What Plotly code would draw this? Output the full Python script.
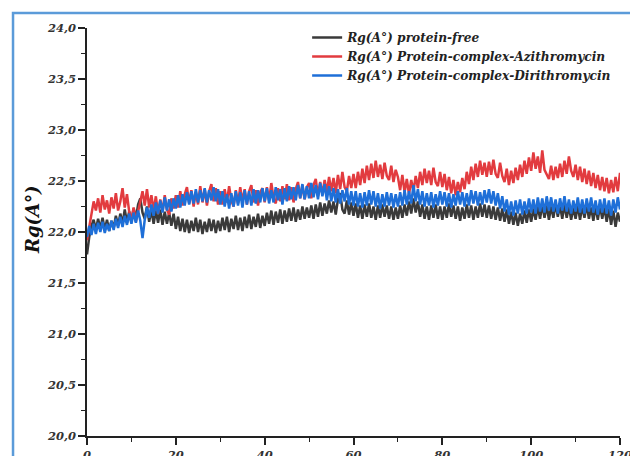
import plotly.graph_objects as go

# ---------------- data (0.5 ns sampling) ----------------
time_step = 0.5
rg_free = [
    21.78, 21.95, 22.06, 22.12, 22.02, 22.13, 22.03, 22.14, 22.02, 22.12, 22.01, 22.11, 22.04, 22.16, 22.06, 22.18, 22.08, 22.22, 22.09, 22.20,
    22.10, 22.23, 22.13, 22.27, 22.33, 22.19, 22.13, 22.25, 22.10, 22.22, 22.08, 22.21, 22.09, 22.22, 22.07, 22.20, 22.08, 22.19, 22.06, 22.18,
    22.03, 22.15, 22.01, 22.13, 22.00, 22.12, 21.99, 22.11, 22.01, 22.14, 22.00, 22.12, 21.98, 22.10, 22.00, 22.13, 22.01, 22.12, 21.99, 22.11,
    22.01, 22.14, 22.02, 22.15, 22.00, 22.13, 22.03, 22.16, 22.02, 22.14, 22.01, 22.15, 22.04, 22.17, 22.03, 22.15, 22.05, 22.18, 22.04, 22.16,
    22.06, 22.19, 22.08, 22.21, 22.07, 22.20, 22.09, 22.22, 22.08, 22.21, 22.10, 22.23, 22.11, 22.24, 22.10, 22.22, 22.12, 22.25, 22.13, 22.24,
    22.14, 22.26, 22.13, 22.27, 22.15, 22.29, 22.16, 22.28, 22.18, 22.31, 22.19, 22.30, 22.17, 22.32, 22.38, 22.22, 22.18, 22.31, 22.17, 22.29,
    22.16, 22.28, 22.14, 22.26, 22.13, 22.27, 22.15, 22.28, 22.14, 22.25, 22.12, 22.26, 22.14, 22.27, 22.15, 22.26, 22.13, 22.25, 22.12, 22.24,
    22.13, 22.26, 22.14, 22.27, 22.16, 22.30, 22.18, 22.33, 22.19, 22.30, 22.15, 22.27, 22.13, 22.25, 22.12, 22.26, 22.14, 22.27, 22.13, 22.25,
    22.12, 22.25, 22.14, 22.28, 22.15, 22.26, 22.13, 22.25, 22.11, 22.24, 22.13, 22.27, 22.14, 22.26, 22.12, 22.25, 22.14, 22.28, 22.15, 22.27,
    22.14, 22.26, 22.13, 22.25, 22.12, 22.24, 22.11, 22.23, 22.10, 22.22, 22.08, 22.20, 22.07, 22.19, 22.06, 22.18, 22.08, 22.21, 22.09, 22.22,
    22.10, 22.23, 22.12, 22.25, 22.13, 22.27, 22.14, 22.26, 22.12, 22.25, 22.14, 22.28, 22.15, 22.26, 22.13, 22.27, 22.14, 22.25, 22.12, 22.24,
    22.13, 22.26, 22.12, 22.25, 22.14, 22.27, 22.13, 22.24, 22.11, 22.25, 22.12, 22.26, 22.13, 22.24, 22.10, 22.23, 22.07, 22.21, 22.05, 22.19,
    22.10,
]
rg_azithro = [
    21.92, 22.06, 22.20, 22.30, 22.21, 22.33, 22.19, 22.36, 22.22, 22.31, 22.18, 22.34, 22.23, 22.38, 22.21, 22.30, 22.43, 22.24, 22.37, 22.20,
    22.12, 22.24, 22.10, 22.21, 22.30, 22.40, 22.26, 22.42, 22.24, 22.36, 22.21, 22.35, 22.18, 22.32, 22.20, 22.36, 22.22, 22.17, 22.33, 22.23,
    22.36, 22.24, 22.40, 22.26, 22.37, 22.44, 22.28, 22.41, 22.25, 22.39, 22.27, 22.45, 22.29, 22.42, 22.26, 22.40, 22.47, 22.30, 22.43, 22.27,
    22.40, 22.27, 22.42, 22.29, 22.45, 22.31, 22.25, 22.41, 22.28, 22.44, 22.30, 22.42, 22.27, 22.40, 22.46, 22.29, 22.41, 22.26, 22.39, 22.43,
    22.29, 22.44, 22.31, 22.48, 22.33, 22.28, 22.43, 22.30, 22.45, 22.32, 22.47, 22.31, 22.44, 22.29, 22.42, 22.49, 22.33, 22.46, 22.32, 22.44,
    22.48, 22.33, 22.46, 22.52, 22.35, 22.49, 22.37, 22.51, 22.39, 22.54, 22.40, 22.53, 22.38, 22.56, 22.42, 22.59, 22.44, 22.40, 22.55, 22.43,
    22.57, 22.43, 22.59, 22.46, 22.62, 22.48, 22.65, 22.51, 22.67, 22.53, 22.70, 22.54, 22.66, 22.52, 22.68, 22.55, 22.51, 22.65, 22.49, 22.61,
    22.54, 22.41, 22.56, 22.39, 22.52, 22.37, 22.51, 22.40, 22.55, 22.43, 22.59, 22.46, 22.62, 22.48, 22.60, 22.46, 22.63, 22.49, 22.45, 22.59,
    22.44, 22.57, 22.41, 22.54, 22.38, 22.51, 22.36, 22.49, 22.39, 22.53, 22.42, 22.59, 22.47, 22.64, 22.51, 22.67, 22.54, 22.70, 22.56, 22.68,
    22.54, 22.69, 22.56, 22.71, 22.57, 22.53, 22.68, 22.55, 22.49, 22.62, 22.46, 22.60, 22.48, 22.63, 22.51, 22.66, 22.54, 22.70, 22.57, 22.73,
    22.60, 22.78, 22.62, 22.74, 22.58, 22.80, 22.61, 22.56, 22.52, 22.65, 22.51, 22.64, 22.53, 22.67, 22.54, 22.70, 22.57, 22.74, 22.60, 22.54,
    22.66, 22.51, 22.64, 22.49, 22.62, 22.47, 22.60, 22.45, 22.58, 22.43, 22.56, 22.41, 22.54, 22.40, 22.53, 22.38, 22.51, 22.39, 22.54, 22.40,
    22.58,
]
rg_dirithro = [
    21.95, 22.06, 21.97, 22.08, 21.98, 22.09, 22.00, 22.10, 21.99, 22.08, 22.01, 22.11, 22.02, 22.13, 22.04, 22.15, 22.05, 22.16, 22.07, 22.18,
    22.08, 22.19, 22.09, 22.21, 22.11, 21.94, 22.12, 22.24, 22.14, 22.27, 22.16, 22.29, 22.18, 22.31, 22.19, 22.34, 22.21, 22.32, 22.20, 22.33,
    22.23, 22.36, 22.24, 22.37, 22.26, 22.39, 22.27, 22.40, 22.28, 22.42, 22.29, 22.41, 22.30, 22.43, 22.29, 22.41, 22.31, 22.44, 22.30, 22.42,
    22.27, 22.40, 22.25, 22.37, 22.23, 22.38, 22.25, 22.40, 22.26, 22.39, 22.24, 22.41, 22.27, 22.40, 22.26, 22.42, 22.28, 22.41, 22.29, 22.43,
    22.30, 22.43, 22.28, 22.41, 22.29, 22.44, 22.31, 22.42, 22.27, 22.43, 22.30, 22.45, 22.32, 22.44, 22.31, 22.46, 22.33, 22.47, 22.32, 22.45,
    22.33, 22.48, 22.34, 22.46, 22.32, 22.48, 22.35, 22.47, 22.31, 22.45, 22.30, 22.43, 22.29, 22.42, 22.28, 22.41, 22.30, 22.43, 22.27, 22.40,
    22.26, 22.40, 22.25, 22.38, 22.24, 22.39, 22.26, 22.41, 22.27, 22.40, 22.25, 22.38, 22.23, 22.37, 22.25, 22.39, 22.26, 22.38, 22.24, 22.37,
    22.25, 22.39, 22.26, 22.41, 22.27, 22.40, 22.28, 22.46, 22.30, 22.42, 22.27, 22.40, 22.25, 22.38, 22.26, 22.39, 22.24, 22.37, 22.26, 22.40,
    22.27, 22.39, 22.25, 22.38, 22.24, 22.37, 22.26, 22.40, 22.27, 22.39, 22.25, 22.38, 22.26, 22.41, 22.28, 22.40, 22.26, 22.39, 22.27, 22.41,
    22.29, 22.42, 22.28, 22.40, 22.26, 22.38, 22.23, 22.35, 22.20, 22.32, 22.17, 22.30, 22.16, 22.31, 22.18, 22.32, 22.17, 22.30, 22.18, 22.33,
    22.19, 22.32, 22.18, 22.34, 22.20, 22.33, 22.19, 22.35, 22.21, 22.34, 22.20, 22.32, 22.18, 22.33, 22.21, 22.35, 22.20, 22.32, 22.18, 22.31,
    22.20, 22.34, 22.19, 22.32, 22.18, 22.33, 22.20, 22.34, 22.19, 22.31, 22.17, 22.32, 22.19, 22.33, 22.18, 22.31, 22.16, 22.32, 22.19, 22.34,
    22.22,
]
time_ns = [i * time_step for i in range(len(rg_free))]

series_names = [
    "Rg(A°) protein-free",
    "Rg(A°) Protein-complex-Azithromycin",
    "Rg(A°) Protein-complex-Dirithromycin",
]
x_tick_vals = [0, 20, 40, 60, 80, 100, 120]
x_tick_labels = ["0", "20", "40", "60", "80", "100", "120"]
y_tick_vals = [20.0, 20.5, 21.0, 21.5, 22.0, 22.5, 23.0, 23.5, 24.0]
y_tick_labels = ["20,0", "20,5", "21,0", "21,5", "22,0", "22,5", "23,0", "23,5", "24,0"]
y_title = "Rg(A°)"

# ---------------- figure ----------------
SERIF = "DejaVu Serif"
colors = ["#3a3a3a", "#e23b3f", "#1e6fd8"]

fig = go.Figure()
for name, vals, col in zip(series_names, [rg_free, rg_azithro, rg_dirithro], colors):
    fig.add_trace(go.Scatter(
        x=time_ns, y=vals, mode="lines", name=name,
        line=dict(color=col, width=2.5),
    ))

tickfont = dict(family=SERIF, size=11.5, color="#333333", weight="bold", style="italic")

fig.update_layout(
    width=630, height=456,
    margin=dict(l=87, r=10, t=28, b=20, autoexpand=False),
    paper_bgcolor="white", plot_bgcolor="white",
    showlegend=True,
    legend=dict(
        x=0.413, y=1.012, xanchor="left", yanchor="top",
        bgcolor="rgba(0,0,0,0)",
        font=dict(family=SERIF, size=12.2, color="#222222", weight="bold", style="italic"),
        tracegroupgap=0, itemwidth=30,
    ),
    xaxis=dict(
        range=[0, 120], tickvals=x_tick_vals, ticktext=x_tick_labels, automargin=False,
        ticklabeloverflow="allow",
        showgrid=False, zeroline=False, showline=True, linecolor="#222222", linewidth=1.5,
        ticks="outside", ticklen=7, tickwidth=1.5, tickcolor="#222222",
        minor=dict(dtick=10, ticks="outside", ticklen=4, tickwidth=1.2, tickcolor="#222222"),
        tickfont=tickfont,
    ),
    yaxis=dict(
        range=[20.0, 24.0], tickvals=y_tick_vals, ticktext=y_tick_labels, automargin=False,
        showgrid=False, zeroline=False, showline=True, linecolor="#222222", linewidth=1.5,
        ticks="outside", ticklen=7, tickwidth=1.5, tickcolor="#222222",
        minor=dict(dtick=0.25, ticks="outside", ticklen=4, tickwidth=1.2, tickcolor="#222222"),
        tickfont=tickfont,
    ),
    annotations=[dict(
        text=y_title, xref="paper", yref="paper", x=-0.101, y=0.53,
        xanchor="center", yanchor="middle", textangle=-90, showarrow=False,
        font=dict(family=SERIF, size=18, color="#111111", weight="bold", style="italic"),
    )],
    shapes=[dict(
        type="rect", xref="paper", yref="paper",
        x0=-0.1388, x1=1.05, y0=-0.1, y1=1.0368,
        line=dict(color="#5b9bd9", width=2.5), fillcolor="rgba(0,0,0,0)", layer="above",
    )],
)

fig.write_html("out.html")
